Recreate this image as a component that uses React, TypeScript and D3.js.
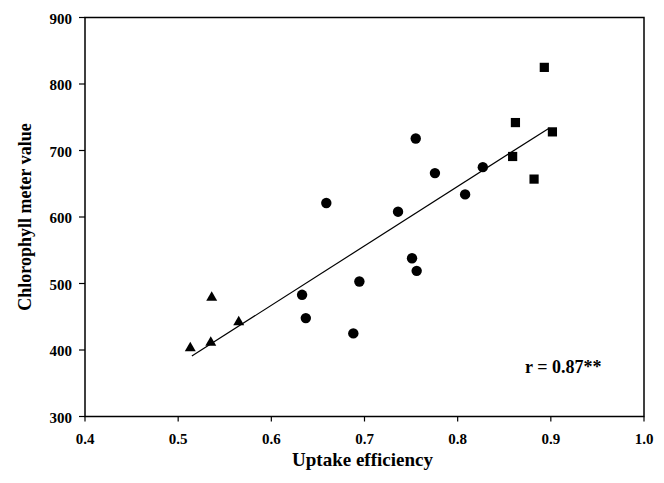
import React from "react";
import * as d3 from "d3";

const triX = [0.513, 0.535, 0.536, 0.565];
const triY = [403, 411, 479, 442];
const circX = [0.633, 0.637, 0.659, 0.688, 0.6945, 0.736, 0.751, 0.755, 0.756, 0.7756, 0.808, 0.827];
const circY = [483, 448, 621, 425, 503, 608, 538, 718, 519, 666, 634, 675];
const sqX = [0.893, 0.862, 0.9017, 0.859, 0.882];
const sqY = [825, 742, 728, 691, 657];
const fitX = [0.5147, 0.8985];
const fitY = [391, 734];
const xTicks = [0.4, 0.5, 0.6, 0.7, 0.8, 0.9, 1.0];
const yTicks = [300, 400, 500, 600, 700, 800, 900];

const W = 664, H = 483;
const L = 85, R = 644, T = 17.5, B = 416.5;
const FONT = "'Liberation Serif', 'Times New Roman', serif";

export default function App() {
  const x = d3.scaleLinear().domain([0.4, 1.0]).range([L, R]);
  const y = d3.scaleLinear().domain([300, 900]).range([B, T]);
  const tri = d3.symbol(d3.symbolTriangle, 52)() as string;
  const line = d3.line<number>().x((d, i) => x(fitX[i])).y((d, i) => y(fitY[i]));
  return (
    <div style={{ position: "absolute", left: 0, top: 0 }}>
      <svg width={W} height={H} style={{ display: "block", background: "#fff" }}>
        <rect x={L} y={T} width={R - L} height={B - T} fill="none" stroke="#000" strokeWidth={1.5} />
        {yTicks.map((t) => (
          <g key={"y" + t}>
            <line x1={L - 6} x2={L} y1={y(t)} y2={y(t)} stroke="#000" strokeWidth={1.2} />
            <text x={L - 13} y={y(t)} dy="0.42em" textAnchor="end" fontFamily={FONT} fontWeight="bold" fontSize={15}>
              {t}
            </text>
          </g>
        ))}
        {xTicks.map((t) => (
          <g key={"x" + t}>
            <line x1={x(t)} x2={x(t)} y1={B} y2={B + 5} stroke="#000" strokeWidth={1.2} />
            <text x={x(t)} y={B + 27} textAnchor="middle" fontFamily={FONT} fontWeight="bold" fontSize={15}>
              {t.toFixed(1)}
            </text>
          </g>
        ))}
        <path d={line(fitX) as string} fill="none" stroke="#000" strokeWidth={1.2} />
        {triX.map((v, i) => (
          <path key={"t" + i} d={tri} transform={`translate(${x(v)},${y(triY[i])})`} fill="#000" />
        ))}
        {circX.map((v, i) => (
          <circle key={"c" + i} cx={x(v)} cy={y(circY[i])} r={5.2} fill="#000" />
        ))}
        {sqX.map((v, i) => (
          <rect key={"s" + i} x={x(v) - 4.6} y={y(sqY[i]) - 4.6} width={9.2} height={9.2} fill="#000" />
        ))}
        <text x={525} y={373} fontFamily={FONT} fontWeight="bold" fontSize={18}>
          r = 0.87**
        </text>
        <text x={(L + R) / 2 - 2} y={466} textAnchor="middle" fontFamily={FONT} fontWeight="bold" fontSize={19}>
          Uptake efficiency
        </text>
        <text
          transform={`translate(31,${(T + B) / 2}) rotate(-90)`}
          textAnchor="middle"
          fontFamily={FONT}
          fontWeight="bold"
          fontSize={18}
        >
          Chlorophyll meter value
        </text>
      </svg>
    </div>
  );
}
